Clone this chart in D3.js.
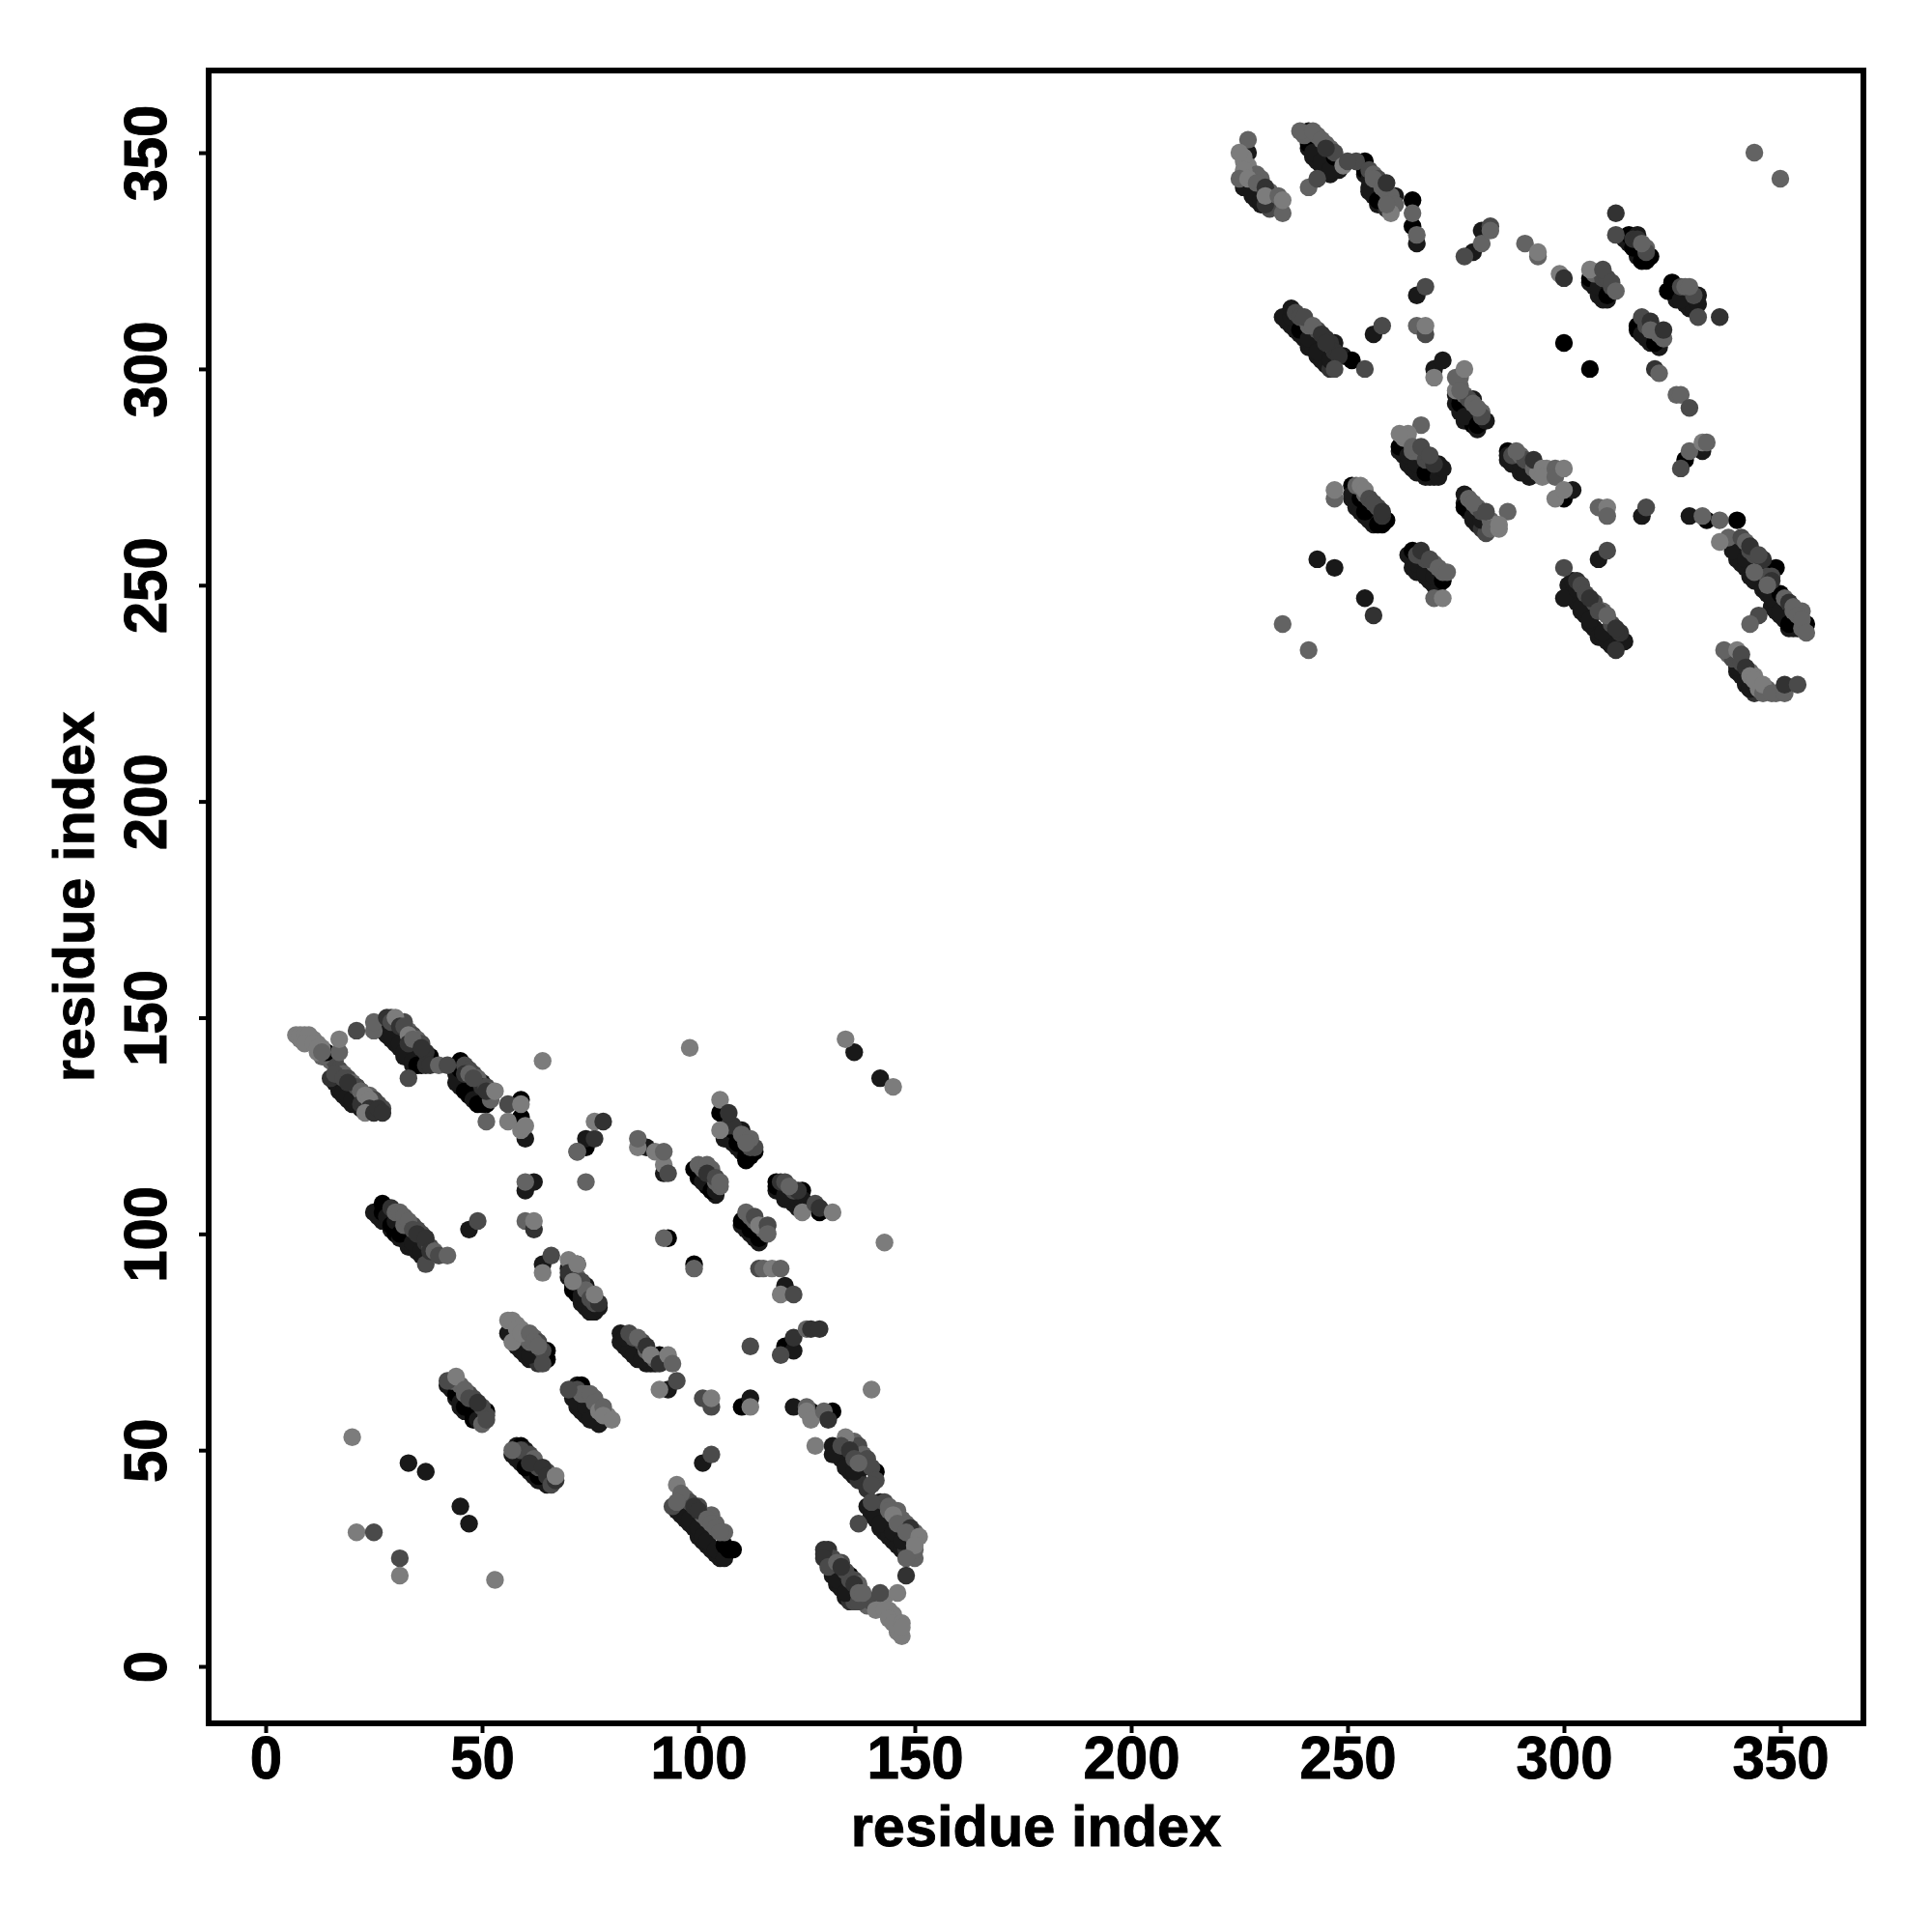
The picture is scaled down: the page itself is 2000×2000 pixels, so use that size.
<!DOCTYPE html>
<html>
<head>
<meta charset="utf-8">
<script src="https://cdn.jsdelivr.net/npm/d3@7"></script>
<style>
html,body{margin:0;padding:0;background:#fff}
svg{display:block}
text{font-family:"Liberation Sans",Arial,sans-serif;font-weight:700;fill:#000}
</style>
</head>
<body>
<svg id="chart" width="2000" height="2000"></svg>
<script>
// each contact: [residue i, residue j, shade level 0 (darkest) .. 5 (lightest)]
const swArmTop=[[7,146,5],[8,146,5],[9,146,5],[10,146,5],[9,144,5],[11,144,5],[12,143,5],[13,142,4],[14,142,0],[17,142,4],[17,145,5],[21,147,3],[25,147,4]];
const swArmLow=[[15,136,2],[17,134,1],[16,137,3],[18,133,1],[18,136,3],[19,132,1],[19,135,2],[20,131,1],[21,134,0],[22,133,4],[22,130,2],[23,132,5],[24,131,5],[24,129,2],[25,131,1],[23,128,5],[25,128,2],[26,129,2],[27,128,2]];
const swArc2=[[25,149,4],[27,147,1],[28,150,2],[29,146,1],[29,149,3],[30,150,5],[31,144,1],[31,148,2],[32,142,1],[32,148,3],[33,146,5],[34,140,1],[33,144,2],[34,145,4],[35,139,0],[36,143,2],[36,139,0],[38,141,0],[37,139,2],[38,139,2],[40,139,4],[42,139,3],[33,136,3]];
const swArc3=[[44,135,1],[45,140,0],[45,138,0],[46,133,0],[46,137,2],[47,137,4],[47,132,0],[48,131,1],[48,136,3],[50,135,1],[49,130,0],[51,130,0],[51,133,2],[53,133,5],[51,126,4]];
const swNorth=[[64,140,5],[98,143,5],[56,130,3],[59,130,5],[59,131,0],[56,126,5],[59,127,0],[60,122,1],[59,124,5],[60,125,5],[60,112,4],[60,110,1],[62,112,1],[60,103,4],[62,101,2],[62,103,5],[74,112,4],[72,119,3],[72,119,4],[74,120,0],[74,122,1],[76,122,2],[76,126,5],[78,126,2],[86,120,5],[86,122,4],[88,120,1],[90,119,5],[92,116,5],[92,114,1],[93,114,3],[92,119,4]];
const swStrip105=[[25,105,1],[27,105,0],[27,107,0],[28,104,1],[29,102,0],[30,103,1],[31,100,0],[31,105,4],[32,104,4],[33,103,4],[34,98,1],[34,101,3],[36,96,1],[35,100,2],[37,99,2],[37,93,3],[38,96,2],[39,96,4],[40,95,3],[42,95,4],[47,101,1],[49,103,3]];
const swMiddle=[[64,91,5],[64,93,1],[66,95,3],[70,94,5],[70,91,2],[71,89,5],[72,93,1],[71,87,0],[72,93,5],[73,85,1],[74,88,1],[73,86,1],[75,83,1],[76,86,5],[75,82,1],[77,83,1]];
const swStrip80=[[56,80,5],[57,80,5],[56,77,1],[58,78,5],[57,75,5],[58,74,1],[59,77,5],[60,72,1],[61,77,4],[62,75,4],[61,72,1],[63,74,4],[64,70,3],[65,71,0],[65,73,0]];
const swStrip72=[[82,77,1],[82,75,1],[84,73,1],[83,76,1],[86,76,4],[85,72,1],[88,74,2],[87,71,1],[89,72,5],[91,70,2],[91,72,0],[93,72,5],[94,70,4],[91,64,5],[93,64,1],[95,66,3]];
const swStrip66=[[42,66,3],[44,67,5],[44,63,0],[45,61,1],[46,64,4],[46,60,0],[47,62,3],[48,58,0],[49,61,2],[49,57,1],[50,56,4],[51,57,3],[51,59,0]];
const swStrip50=[[57,50,4],[58,51,1],[59,51,0],[58,48,1],[60,50,1],[62,48,4],[60,46,0],[61,47,2],[63,44,0],[64,46,2],[65,44,2],[66,42,3],[67,43,2],[67,44,5]];
const swStrip64=[[70,64,3],[71,63,1],[72,65,1],[73,65,0],[72,61,1],[74,60,1],[75,63,4],[75,57,1],[76,61,4],[77,59,5],[78,60,4],[78,58,5],[80,57,5]];
const swScatter=[[20,53,5],[33,47,1],[37,45,1],[45,37,1],[47,33,1],[21,31,5],[25,31,3],[31,25,3],[31,21,5],[53,20,5],[134,145,5],[136,142,1],[142,136,1],[145,134,5],[143,98,5],[140,64,5],[112,74,3]];
const swStrip128=[[105,131,5],[105,128,0],[107,128,2],[105,124,5],[106,122,1],[108,124,0],[110,124,1],[109,121,0],[111,118,0],[112,122,4],[111,121,4],[113,119,0],[112,118,0]];
const swStrip115=[[99,115,0],[100,116,4],[100,113,0],[101,112,1],[102,116,4],[102,114,2],[103,110,0],[104,113,3],[105,111,4],[104,110,1],[105,112,4]];
const swStrip110=[[118,112,0],[118,111,0],[119,111,0],[120,109,1],[121,111,4],[123,108,1],[124,110,0],[124,105,5],[124,108,1],[128,105,0],[127,107,3],[128,106,2],[131,105,5]];
const swStrip100=[[111,105,4],[110,103,0],[112,101,0],[113,104,3],[114,99,0],[114,102,5],[116,102,3],[116,100,4]];
const swInner=[[92,99,4],[93,99,0],[99,92,4],[99,93,0],[114,92,3],[115,92,4],[117,92,5],[119,92,4],[119,86,5],[120,88,1],[122,86,3],[119,72,3],[120,74,0],[122,76,2],[122,73,1],[125,78,4],[126,78,2],[128,78,2]];
const swLow60=[[101,62,3],[103,60,3],[103,62,5],[110,60,0],[112,60,5],[112,62,1],[122,60,1],[125,60,4],[125,59,5],[126,57,5],[126,59,0],[129,59,4],[130,57,2],[131,59,0]];
const swStrip30=[[94,37,3],[95,42,5],[96,40,4],[95,38,4],[97,38,1],[98,34,1],[99,37,2],[100,32,1],[100,36,2],[101,30,1],[102,34,4],[102,29,1],[103,33,4],[104,27,1],[104,32,4],[105,31,4],[106,25,1],[106,28,0],[107,27,0],[108,27,0],[101,47,1],[103,49,3]];
const swArcEast=[[127,51,5],[131,51,1],[134,53,5],[131,49,1],[133,51,3],[135,50,2],[134,46,1],[136,48,3],[136,45,1],[137,47,4],[138,46,1],[141,45,0],[140,42,3],[140,38,3],[142,38,1],[140,35,1],[142,33,1],[144,36,4],[145,31,1],[145,35,5],[146,33,4],[147,29,1],[149,32,2],[148,31,4],[137,33,3],[150,27,4],[151,30,5],[150,28,5],[148,25,4],[148,21,2]];
const swArcSouth=[[129,27,2],[129,25,2],[130,26,1],[130,23,3],[132,24,4],[132,20,1],[133,23,2],[134,17,1],[135,21,0],[136,19,2],[137,15,3],[137,17,4],[138,17,4],[141,14,1],[142,17,3],[146,17,5],[141,13,5],[143,13,5],[144,11,5],[145,10,5],[147,7,5],[147,10,5],[147,9,5]];

const neArmTop=[[227,353,4],[227,350,1],[225,350,5],[226,346,5],[225,344,4],[226,342,1],[227,344,5],[228,341,1],[229,343,4],[230,339,1],[231,342,2],[231,338,2],[231,340,5],[234,340,4],[235,336,4],[235,339,5]];
const neArc2=[[239,355,4],[241,355,1],[241,352,0],[242,350,1],[242,355,4],[244,353,4],[244,348,1],[245,351,2],[246,346,1],[247,349,0],[249,347,5],[250,348,3],[241,342,4],[243,344,3],[254,348,0],[254,346,0],[255,341,1],[255,344,1],[256,344,4],[257,339,0],[258,342,4],[259,343,2],[260,336,5],[259,338,4],[261,340,1],[265,339,0],[265,336,4],[265,333,0],[266,329,1],[266,331,4]];
const neNorth=[[277,326,3],[279,327,1],[281,329,4],[281,332,1],[283,333,3],[283,332,4],[291,329,4],[294,326,4],[294,327,5],[299,322,5],[300,321,2],[306,321,0],[306,323,5],[308,319,1],[309,323,3],[310,317,0],[311,320,3],[312,318,4]];
const neStrip330=[[312,336,2],[312,331,3],[315,331,0],[317,331,1],[316,328,0],[318,325,0],[318,329,4],[320,326,0],[325,320,0],[324,318,0],[327,316,1],[329,319,4],[331,317,1],[331,315,1],[331,312,3],[336,312,2]];
const neStrip310=[[317,310,0],[318,312,3],[318,308,1],[320,311,2],[320,309,4],[321,306,0],[323,307,4],[323,309,2],[321,300,2],[322,299,4],[326,294,4],[327,294,4],[329,291,3],[300,306,0],[306,300,0],[276,298,4]];
const neStrip305=[[235,312,1],[237,312,1],[237,314,1],[239,309,0],[240,312,3],[241,307,1],[242,310,4],[243,304,1],[244,308,2],[245,306,2],[246,302,1],[247,306,1],[247,300,3],[249,303,1],[251,302,0],[254,300,3],[256,308,1],[258,310,3],[266,317,1],[268,319,3],[266,310,4],[268,308,3],[268,310,5]];
const neCentral=[[270,298,5],[270,300,1],[272,302,1],[275,295,5],[275,298,4],[277,300,5],[276,292,0],[276,295,4],[277,289,1],[279,293,1],[280,287,0],[280,291,4],[282,288,1]];
const neStrip280=[[267,287,4],[262,282,0],[264,285,5],[262,285,5],[264,280,1],[265,282,4],[266,278,1],[267,282,3],[268,276,0],[269,280,3],[271,275,1],[271,278,1],[272,277,1]];
const neStrip275=[[287,281,0],[287,280,1],[289,281,4],[290,278,1],[291,276,1],[293,279,2],[295,277,5],[295,275,5],[298,277,4],[298,275,4],[300,277,5],[298,270,5],[300,270,0],[302,272,1],[300,272,5]];
const neStrip268=[[247,270,4],[247,272,5],[251,273,0],[251,271,1],[253,270,0],[253,273,5],[254,272,5],[254,267,0],[255,270,3],[256,269,3],[257,264,0],[258,267,2],[259,265,0],[277,271,1],[277,268,0],[279,269,4],[279,266,1],[281,265,1],[282,267,3],[287,267,4],[283,263,4],[285,263,5],[285,264,5],[308,268,4],[310,268,5],[310,266,4],[318,266,1],[319,268,3]];
const neStrip254=[[264,257,1],[265,258,0],[266,255,1],[267,258,2],[268,253,1],[269,256,3],[270,252,1],[271,254,4],[272,251,0],[273,253,4],[270,247,4],[272,247,5],[243,256,1],[247,254,1],[254,247,1],[256,243,2],[235,241,4],[241,235,4],[344,350,4],[350,344,4]];
const neStrip243=[[300,254,3],[300,247,1],[302,251,1],[303,249,1],[304,245,1],[306,242,1],[306,247,2],[308,244,3],[309,239,1],[310,243,4],[308,256,1],[310,258,3],[312,235,2],[312,240,2],[313,237,1],[314,237,1]];
const neEast=[[327,277,3],[328,279,0],[329,281,4],[332,281,1],[332,283,5],[333,283,4],[329,266,1],[332,266,4],[333,265,0],[336,265,4],[340,265,0]];
const neArcEast=[[336,260,5],[339,260,0],[339,258,1],[342,260,4],[342,256,1],[343,259,2],[344,253,4],[345,257,3],[346,255,1],[349,254,0],[348,251,2],[347,250,4],[348,247,1],[350,248,0],[350,244,1],[352,246,2],[352,241,0],[353,245,4],[354,243,4],[355,242,4],[356,241,0],[356,239,4],[345,243,3],[343,241,4]];
const neArcSouth=[[337,235,4],[340,235,5],[341,234,3],[340,231,1],[342,231,2],[342,228,1],[343,229,5],[343,226,1],[344,228,5],[346,225,4],[346,227,5],[348,225,4],[351,225,4],[351,227,2],[354,227,3]];

// contacts hidden under the bands: upper edge (mid grey) and lower edge (near black)
const swBandUpper=[[17,138,3],[18,137,4],[19,136,3],[20,135,4],[21,134,3],[22,133,4],[23,132,3],[24,132,4],[25,131,3],[26,130,3],[27,129,3],[8,145,5],[9,145,5],[11,145,5],[12,144,5],[13,143,5],[29,150,3],[31,149,4],[32,149,3],[33,147,4],[34,146,3],[35,145,4],[36,144,3],[37,142,2],[46,139,3],[47,138,3],[48,137,3],[49,136,4],[50,134,2],[51,134,3],[52,133,4],[52,131,4],[29,106,2],[30,105,4],[32,102,4],[34,102,3],[35,101,3],[36,100,3],[37,98,2],[38,97,3],[71,93,4],[72,90,4],[73,89,3],[74,87,4],[75,85,3],[76,84,3],[77,84,2],[58,79,5],[59,78,5],[60,76,4],[61,75,4],[62,76,4],[63,75,3],[64,73,3],[84,77,3],[85,76,3],[87,75,3],[88,73,4],[90,71,4],[92,71,4],[93,71,4],[43,66,4],[45,65,4],[46,63,4],[47,63,3],[48,62,3],[50,60,3],[51,58,3],[59,50,3],[61,49,3],[62,47,4],[63,46,3],[65,45,3],[66,44,4],[72,64,3],[73,63,4],[74,63,4],[76,62,4],[77,60,4],[79,58,5],[107,125,2],[108,125,2],[110,123,4],[112,120,3],[113,120,3],[101,115,4],[103,115,4],[104,112,4],[119,112,2],[120,112,3],[122,110,3],[123,110,2],[112,104,4],[113,103,4],[115,101,4],[97,39,4],[98,38,3],[100,37,3],[101,35,4],[103,35,4],[104,33,4],[106,31,4],[136,52,4],[137,51,3],[138,49,4],[139,48,3],[140,46,3],[141,43,3],[143,38,3],[144,37,4],[146,36,4],[147,34,4],[148,33,4],[150,31,4],[150,29,4],[150,25,4],[130,27,2],[131,25,3],[133,24,3],[134,22,3],[135,20,3],[136,20,3],[137,19,4],[138,15,4],[139,14,4],[140,15,3],[143,16,5],[144,13,5],[145,12,5],[146,10,5],[146,8,5]];
const swBandLower=[[16,135,1],[17,133,1],[18,132,1],[19,131,1],[20,130,1],[21,130,1],[22,129,1],[23,129,2],[8,145,5],[14,141,3],[15,140,4],[16,140,3],[13,141,4],[12,142,5],[27,148,1],[28,146,1],[29,145,1],[30,144,1],[31,143,1],[32,141,1],[33,141,1],[34,139,1],[35,139,1],[44,137,1],[45,136,1],[45,134,1],[46,135,1],[47,133,1],[48,132,1],[49,131,0],[50,130,0],[50,131,1],[26,104,1],[27,103,1],[28,103,1],[29,101,1],[30,100,0],[31,99,1],[32,99,1],[33,97,1],[34,97,1],[35,96,1],[36,95,1],[70,92,1],[70,90,1],[71,88,1],[72,86,0],[73,84,1],[74,83,1],[75,82,1],[76,82,1],[57,76,1],[58,75,1],[59,73,1],[60,73,1],[61,71,1],[62,71,1],[63,70,2],[83,74,1],[84,74,1],[85,73,1],[86,71,1],[87,72,1],[88,70,1],[89,70,1],[90,70,1],[42,65,1],[43,64,1],[44,62,1],[45,60,1],[46,59,1],[47,59,1],[48,57,0],[49,58,0],[50,57,1],[57,49,1],[58,49,1],[59,47,1],[60,47,1],[61,45,1],[62,44,1],[63,43,1],[64,43,1],[65,42,1],[71,62,1],[72,60,1],[73,59,1],[74,58,1],[75,58,1],[76,57,1],[77,56,1],[106,124,1],[107,122,1],[108,121,1],[109,120,1],[110,119,1],[111,117,0],[100,114,1],[101,113,1],[102,111,0],[103,110,0],[104,109,1],[118,110,1],[119,110,1],[120,108,1],[121,108,1],[122,107,1],[123,106,1],[124,106,1],[110,102,1],[111,101,1],[112,100,1],[113,99,1],[114,98,1],[95,36,1],[96,35,1],[97,34,1],[98,33,1],[99,32,1],[100,30,1],[101,29,1],[102,28,1],[103,27,1],[104,26,1],[105,25,1],[132,50,1],[133,48,1],[134,47,1],[135,45,1],[136,44,1],[137,43,2],[139,41,2],[139,37,1],[140,36,1],[141,34,1],[142,32,1],[143,31,1],[144,30,1],[145,29,1],[146,28,1],[147,27,1],[148,27,2],[129,26,2],[130,24,2],[131,22,1],[131,21,1],[132,19,1],[133,18,1],[134,16,1],[135,15,2],[136,15,3]];
const neBandUpper=[[227,347,5],[228,345,5],[229,345,4],[230,344,4],[232,341,4],[233,340,4],[226,348,5],[226,349,5],[240,354,4],[243,354,4],[245,352,4],[246,351,4],[247,350,3],[252,348,3],[255,346,3],[256,345,4],[257,344,3],[259,341,4],[260,340,4],[261,338,4],[307,322,4],[309,321,3],[310,321,3],[311,319,3],[316,330,2],[317,330,2],[319,328,4],[319,327,3],[327,319,3],[328,319,4],[330,317,3],[319,310,3],[321,309,4],[322,308,4],[238,313,3],[239,312,3],[241,310,4],[243,309,3],[245,307,2],[246,306,2],[247,304,2],[248,303,2],[276,296,4],[277,294,4],[278,293,3],[279,292,4],[281,290,4],[281,289,3],[263,284,5],[265,281,4],[266,281,4],[268,279,3],[269,279,3],[270,278,2],[288,280,3],[290,280,4],[291,279,3],[293,277,4],[294,276,5],[296,276,5],[296,277,5],[252,273,4],[254,271,4],[255,270,3],[257,268,3],[258,266,2],[278,270,4],[280,268,4],[281,267,3],[283,265,4],[284,264,5],[266,257,3],[268,256,3],[270,255,4],[272,253,4],[303,251,2],[304,250,3],[305,248,3],[307,246,3],[309,244,4],[311,241,3],[313,239,2],[338,261,4],[341,261,3],[343,258,3],[344,257,3],[346,256,2],[347,252,3],[348,252,3],[351,247,4],[352,246,4],[353,244,4],[355,244,4],[355,240,4],[338,234,4],[339,233,3],[341,232,3],[343,230,4],[344,229,5],[345,226,5],[347,226,4],[349,225,4]];
const neBandLower=[[226,343,1],[227,342,1],[228,340,1],[229,339,1],[230,338,1],[232,337,3],[241,351,1],[242,349,1],[243,348,1],[244,347,1],[245,346,1],[246,345,1],[247,346,1],[248,346,1],[254,345,1],[255,342,1],[256,340,1],[257,338,1],[258,338,1],[259,337,2],[306,320,1],[307,319,1],[308,317,1],[309,316,1],[310,316,1],[314,330,1],[315,329,1],[316,328,0],[317,326,1],[318,325,0],[319,325,0],[325,318,0],[326,316,1],[327,316,1],[328,315,1],[329,314,1],[330,314,1],[317,309,0],[318,308,1],[319,307,1],[320,306,1],[322,305,1],[236,311,1],[237,310,1],[238,309,1],[239,308,1],[240,307,1],[241,305,1],[242,305,1],[243,303,1],[244,302,1],[245,301,1],[246,300,2],[275,294,1],[275,292,1],[276,290,1],[277,288,1],[278,288,1],[279,287,0],[280,286,1],[262,281,1],[263,280,1],[264,278,1],[265,277,1],[266,276,1],[267,276,1],[268,275,1],[269,275,1],[270,275,1],[287,279,1],[288,278,1],[289,278,1],[290,276,1],[291,276,1],[292,275,1],[251,270,1],[252,268,1],[253,267,1],[254,266,1],[255,265,1],[256,264,1],[258,264,0],[277,269,1],[278,267,1],[279,265,1],[280,264,1],[281,263,2],[282,262,3],[265,256,1],[265,254,1],[266,253,1],[267,253,1],[268,252,1],[269,251,1],[270,250,1],[271,250,1],[301,250,1],[302,248,1],[303,246,1],[304,244,1],[305,243,1],[306,241,1],[307,240,1],[308,238,1],[309,238,1],[310,237,1],[311,236,1],[339,259,1],[340,258,1],[340,256,1],[341,255,1],[342,254,1],[343,252,1],[344,251,1],[346,249,1],[347,248,1],[348,245,1],[349,244,1],[350,243,1],[351,242,1],[352,240,1],[353,240,1],[354,240,1],[340,230,1],[341,229,1],[342,227,1],[343,226,1],[344,225,2]];

const xTicks=[0,50,100,150,200,250,300,350];
const yTicks=[0,50,100,150,200,250,300,350];
const axisTitle="residue index";

const mainContacts=[swArmTop,swArmLow,swArc2,swArc3,swNorth,swStrip105,swMiddle,swStrip80,swStrip72,swStrip66,swStrip50,swStrip64,swScatter,swStrip128,swStrip115,swStrip110,swStrip100,swInner,swLow60,swStrip30,swArcEast,swArcSouth,neArmTop,neArc2,neNorth,neStrip330,neStrip310,neStrip305,neCentral,neStrip280,neStrip275,neStrip268,neStrip254,neStrip243,neEast,neArcEast,neArcSouth].flat();
// darkest contacts first so the lighter ones lie over them, as in the bands of the picture
const darkFirst=mainContacts.filter(d=>d[2]<=1), restAfter=mainContacts.filter(d=>d[2]>1);
const allContacts=[...swBandLower,...neBandLower,...darkFirst,...swBandUpper,...neBandUpper,...restAfter];

const L=216,R=1929,T=73,B=1784;
const svg=d3.select("#chart");
const x=d3.scaleLinear().domain([-13.17,369.2]).range([L,R]);
const y=d3.scaleLinear().domain([-13.17,369.0]).range([B,T]);
const shade=d3.scaleLinear().domain([0,5]).range(["#000000","#7c7c7c"]);

svg.append("rect").attr("width",2000).attr("height",2000).attr("fill","#fff");

svg.append("g").selectAll("circle").data(allContacts).join("circle")
  .attr("cx",d=>x(d[0])).attr("cy",d=>y(d[1])).attr("r",9.2)
  .attr("fill",d=>shade(d[2]));

const tickFont=s=>s.style("font-size","60px").style("font-family",'"Liberation Sans",Arial,sans-serif').style("font-weight",700).style("stroke","#000").style("stroke-width","0.9px");

const ax=svg.append("g").attr("transform",`translate(0,${B})`)
  .call(d3.axisBottom(x).tickValues(xTicks).tickSize(10).tickPadding(0).tickFormat(d3.format("d")));
ax.select(".domain").remove();
ax.selectAll("line").attr("stroke","#000").attr("stroke-width",4);
ax.selectAll("text").attr("y",null).attr("dy",null).attr("transform","translate(0,57) scale(1,1.06)")
  .attr("text-anchor","middle").call(tickFont);

const ay=svg.append("g").attr("transform",`translate(${L},0)`)
  .call(d3.axisLeft(y).tickValues(yTicks).tickSize(10).tickPadding(0).tickFormat(d3.format("d")));
ay.select(".domain").remove();
ay.selectAll("line").attr("stroke","#000").attr("stroke-width",4);
ay.selectAll("text").attr("x",null).attr("dy",null)
  .attr("transform","translate(-44,0) rotate(-90) scale(1,1.06)")
  .attr("text-anchor","middle").call(tickFont);

svg.append("rect").attr("x",L).attr("y",T).attr("width",R-L).attr("height",B-T)
  .attr("fill","none").attr("stroke","#000").attr("stroke-width",6);

svg.append("text").attr("x",(L+R)/2).attr("y",1911).attr("text-anchor","middle")
  .style("font-size","59.5px").style("stroke","#000").style("stroke-width","0.9px").text(axisTitle);
svg.append("text").attr("transform",`translate(97,${(T+B)/2}) rotate(-90)`).attr("text-anchor","middle")
  .style("font-size","59.5px").style("stroke","#000").style("stroke-width","0.9px").text(axisTitle);
</script>
</body>
</html>
